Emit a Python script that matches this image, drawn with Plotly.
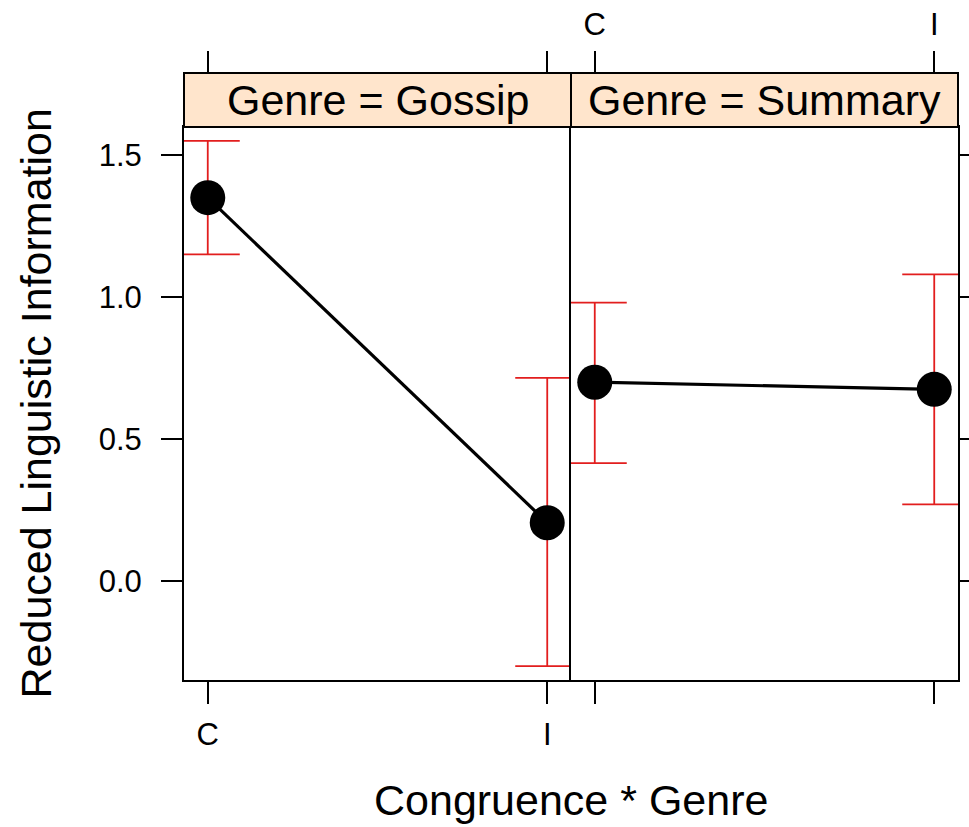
import plotly.graph_objects as go

# Effect estimates with confidence limits, by congruence level within genre
levels = ["C", "I"]
genres = ["Gossip", "Summary"]

gossip_fit = [1.35, 0.205]
gossip_lower = [1.15, -0.30]
gossip_upper = [1.55, 0.715]

summary_fit = [0.70, 0.675]
summary_lower = [0.415, 0.27]
summary_upper = [0.98, 1.08]

y_ticks = [0.0, 0.5, 1.0, 1.5]
y_tick_text = ["0.0", "0.5", "1.0", "1.5"]

FONT = "Liberation Sans, Arial, Helvetica, sans-serif"
W, H = 969, 827
M_L, M_R, M_T, M_B = 184, 11, 73, 147
PLOT_H = H - M_T - M_B
STRIP_H = 54
PANEL_TOP = (PLOT_H - STRIP_H) / PLOT_H
ERR_RED = "rgb(226,30,30)"

panels = [
    (genres[0], gossip_fit, gossip_lower, gossip_upper, "x", "y"),
    (genres[1], summary_fit, summary_lower, summary_upper, "x2", "y2"),
]

fig = go.Figure()
for name, fit, lo, hi, xa, ya in panels:
    fig.add_trace(go.Scatter(
        x=levels, y=fit, xaxis=xa, yaxis=ya,
        mode="lines+markers",
        line=dict(color="black", width=3.2),
        marker=dict(color="black", size=35),
        error_y=dict(
            type="data", symmetric=False,
            array=[h - f for h, f in zip(hi, fit)],
            arrayminus=[f - l for f, l in zip(fit, lo)],
            color=ERR_RED, thickness=1.8, width=32,
        ),
        showlegend=False, hoverinfo="skip", name=name,
    ))

# Placeholder traces so the top tick axes are drawn
for xa, ya in [("x3", "y"), ("x4", "y2")]:
    fig.add_trace(go.Scatter(x=levels, y=[None, None], xaxis=xa, yaxis=ya,
                             mode="markers", showlegend=False, hoverinfo="skip"))

x_range = [-0.07, 1.07]
y_range = [-0.349, 1.599]
tickfont = dict(family=FONT, size=31, color="black")

common_x = dict(
    type="category", range=x_range, ticks="outside", ticklen=22, tickwidth=2,
    tickcolor="black", showline=True, linecolor="black", linewidth=2,
    mirror=True, showgrid=False, zeroline=False, tickfont=tickfont,
    ticklabelstandoff=4, automargin=False,
)
common_y = dict(
    range=y_range, tickvals=y_ticks, ticktext=y_tick_text, ticks="outside",
    ticklen=21, tickwidth=2, tickcolor="black", showline=True,
    linecolor="black", linewidth=2, mirror=True, showgrid=False,
    zeroline=False, tickfont=tickfont, domain=[0, PANEL_TOP],
    automargin=False,
)

fig.update_layout(
    width=W, height=H,
    margin=dict(l=M_L, r=M_R, t=M_T, b=M_B),
    paper_bgcolor="white", plot_bgcolor="white",
    font=dict(family=FONT, color="black"),
    xaxis=dict(common_x, domain=[0, 0.5], anchor="y"),
    xaxis2=dict(common_x, domain=[0.5, 1], anchor="y2", showticklabels=False),
    xaxis3=dict(common_x, overlaying="x", side="top", anchor="free",
                position=1.0, showline=False, showticklabels=False),
    xaxis4=dict(common_x, overlaying="x2", side="top", anchor="free",
                position=1.0, showline=False, showticklabels=True),
    # the shared divider between panels comes from the right panel's frame
    yaxis=dict(common_y, anchor="x", ticklabelstandoff=13, mirror=False),
    yaxis2=dict(common_y, anchor="x2", side="right", showticklabels=False,
                ticklen=12),
)

# Strips
for i, name in enumerate(genres):
    x0, x1 = i * 0.5, (i + 1) * 0.5
    fig.add_shape(type="rect", xref="paper", yref="paper",
                  x0=x0, x1=x1, y0=PANEL_TOP, y1=1.0,
                  fillcolor="#FFE5CC", line=dict(color="black", width=2),
                  layer="above")
    fig.add_annotation(text=f"Genre = {name}", xref="paper", yref="paper",
                       x=(x0 + x1) / 2, y=(PANEL_TOP + 1.0) / 2,
                       showarrow=False, xanchor="center", yanchor="middle",
                       font=dict(family=FONT, size=43, color="black"))

# Axis titles
fig.add_annotation(text="Congruence * Genre", xref="paper", yref="paper",
                   x=0.5, y=(680 - 800) / PLOT_H, showarrow=False,
                   xanchor="center", yanchor="middle",
                   font=dict(family=FONT, size=43, color="black"))
fig.add_annotation(text="Reduced Linguistic Information", xref="paper",
                   yref="paper", x=(35 - M_L) / (W - M_L - M_R),
                   y=PANEL_TOP / 2, textangle=-90, showarrow=False,
                   xanchor="center", yanchor="middle",
                   font=dict(family=FONT, size=43, color="black"))

fig.write_html("out.html")
